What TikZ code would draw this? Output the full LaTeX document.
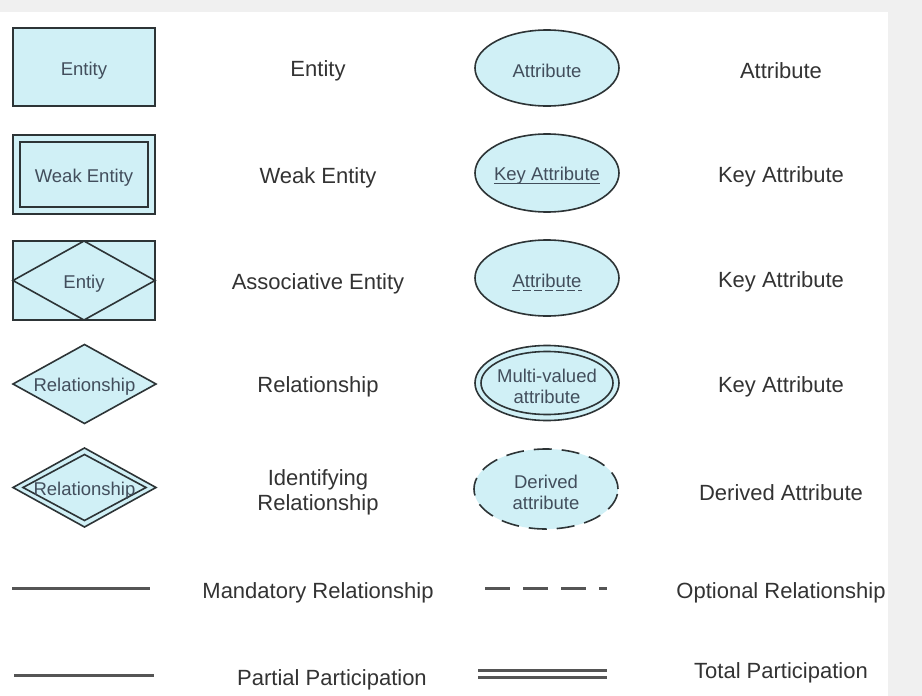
\documentclass[tikz,border=0pt]{standalone}
\usepackage{fontspec}
\setmainfont{Liberation Sans}
\usetikzlibrary{shapes.geometric,calc}
\definecolor{shapefill}{RGB}{208,240,246}
\definecolor{edgecol}{RGB}{45,52,54}
\definecolor{intext}{RGB}{66,78,92}
\definecolor{labtext}{RGB}{51,51,51}
\definecolor{linecol}{RGB}{85,85,85}
\begin{document}
\begin{tikzpicture}[x=1pt,y=-1pt,
  shp/.style={draw=edgecol, fill=shapefill, line width=1.6pt, inner sep=0pt, outer sep=0pt, text=intext, font=\fontsize{18.5}{21}\selectfont, align=center},
  intxt/.style={text=intext, font=\fontsize{18.5}{21}\selectfont, inner sep=0pt, yshift=-2.5pt},
  lab/.style={text=labtext, font=\fontsize{22}{25}\selectfont, align=center, yshift=-2.5pt},
  ln/.style={draw=linecol, line width=3pt},
  edge/.style={draw=edgecol, line width=1.6pt}]
\fill[black!6] (0,0) rectangle (922,696);
\fill[white] (0,12) rectangle (888,696);
\useasboundingbox (0,0) rectangle (922,696);

% Row 1
\node[shp, rectangle, minimum width=142pt, minimum height=78pt] (ent) at (84,67) {};
\node[intxt] (entT) at (84,68) {Entity};
\node[lab] (entL) at (318,68) {Entity};
\node[shp, ellipse, minimum width=144pt, minimum height=76pt] (att) at (547,68) {};
\node[intxt] (attT) at (547,68) {Attribute};
\node[lab] (attL) at (781,68) {Attribute};

% Row 2
\node[shp, rectangle, minimum width=142pt, minimum height=79pt] (weak) at (84,174.5) {};
\draw[edge] ($(weak.north west)+(7,7)$) rectangle ($(weak.south east)+(-7,-7)$);
\node[intxt] (weakT) at (84,175) {Weak Entity};
\node[lab] (weakL) at (318,175) {Weak Entity};
\node[shp, ellipse, minimum width=144pt, minimum height=78pt] (key) at (547,173) {};
\node[intxt] (keyT) at (547,173) {Key Attribute};
\draw[intext, line width=0.9pt] ($(keyT.base west)+(0,3.5)$) -- ($(keyT.base east)+(0,3.5)$);
\node[lab] (keyL) at (781,174) {Key Attribute};

% Row 3
\node[shp, rectangle, minimum width=142pt, minimum height=79pt] (assoc) at (84,280.5) {};
\draw[edge] (assoc.north) -- (assoc.east) -- (assoc.south) -- (assoc.west) -- cycle;
\node[intxt] (assocT) at (84,281) {Entiy};
\node[lab] (assocL) at (318,281) {Associative Entity};
\node[shp, ellipse, minimum width=144pt, minimum height=76pt] (pk) at (547,278) {};
\node[intxt] (pkT) at (547,278) {Attribute};
\draw[intext, line width=0.9pt, dash pattern=on 8pt off 3pt] ($(pkT.base west)+(0,3.5)$) -- ($(pkT.base east)+(0,3.5)$);
\node[lab] (pkL) at (781,279) {Key Attribute};

% Row 4
\node[shp, diamond, aspect=1.8, minimum width=143pt, minimum height=79pt] (rel) at (84.5,384) {};
\node[intxt] (relT) at (84.5,384) {Relationship};
\node[lab] (relL) at (318,384) {Relationship};
\node[shp, ellipse, minimum width=144pt, minimum height=75pt] (mv) at (547,383) {};
\draw[edge] (mv.center) ellipse [x radius=66pt, y radius=31.5pt];
\node[intxt, align=center] (mvT) at (547,384) {Multi-valued\\attribute};
\node[lab] (mvL) at (781,384) {Key Attribute};

% Row 5
\node[shp, diamond, aspect=1.8, minimum width=143pt, minimum height=79pt] (idr) at (84.5,487.5) {};
\draw[edge] ($(idr.north)+(0,6.5)$) -- ($(idr.east)+(-10,0)$) -- ($(idr.south)+(0,-6.5)$) -- ($(idr.west)+(10,0)$) -- cycle;
\node[intxt] (idrT) at (84.5,488) {Relationship};
\node[lab] (idrL) at (318,490) {Identifying\\Relationship};
\node[shp, ellipse, dash pattern=on 18pt off 10pt, minimum width=144pt, minimum height=80pt] (der) at (546,489) {};
\node[intxt, align=center] (derT) at (546,490) {Derived\\attribute};
\node[lab] (derL) at (781,490) {Derived Attribute};

% Row 6
\coordinate (m1) at (12,588);
\coordinate (m2) at (150,588);
\draw[ln] (m1) -- (m2);
\node[lab] (manL) at (318,590) {Mandatory Relationship};
\coordinate (o1) at (485,588);
\coordinate (o2) at (607,588);
\draw[ln, dash pattern=on 25pt off 13pt] (o1) -- (o2);
\node[lab] (optL) at (781,590) {Optional Relationship};

% Row 7
\coordinate (p1) at (14,675);
\coordinate (p2) at (154,675);
\draw[ln] (p1) -- (p2);
\node[lab] (parL) at (332,677) {Partial Participation};
\coordinate (t1) at (478,670.5);
\coordinate (t2) at (607,670.5);
\coordinate (t3) at (478,677.5);
\coordinate (t4) at (607,677.5);
\draw[ln, line width=2.6pt] (t1) -- (t2);
\draw[ln, line width=2.6pt] (t3) -- (t4);
\node[lab] (totL) at (781,670) {Total Participation};
\end{tikzpicture}
\end{document}
